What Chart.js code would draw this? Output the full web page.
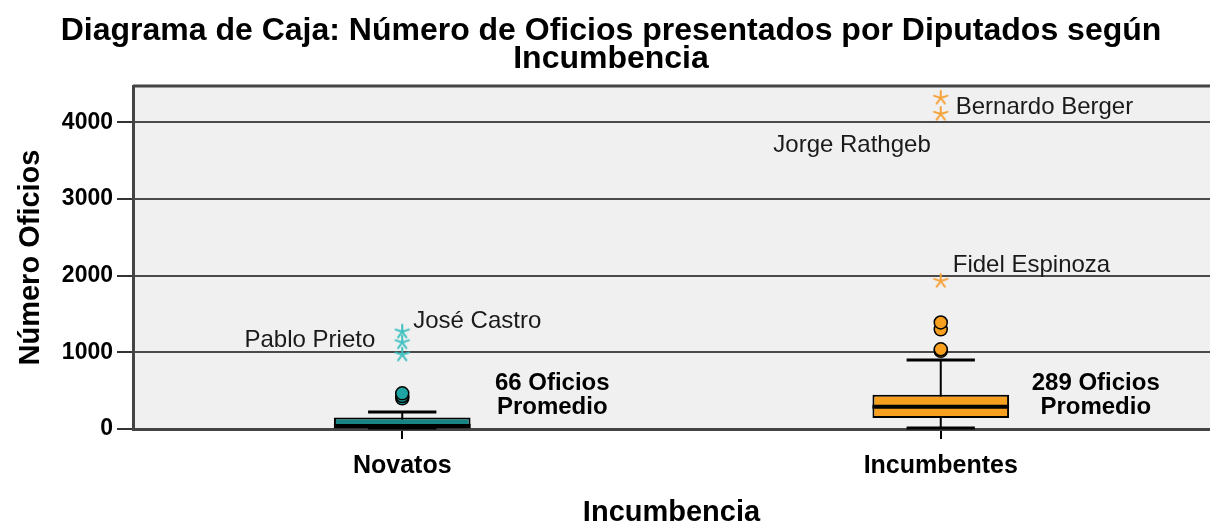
<!DOCTYPE html>
<html>
<head>
<meta charset="utf-8">
<script src="https://cdn.jsdelivr.net/npm/chart.js@4.4.1/dist/chart.umd.min.js"></script>
<style>
  html, body { margin: 0; padding: 0; background: #fff; }
</style>
</head>
<body>
<canvas id="chart" width="1210" height="527"></canvas>
<script>
// box plot data
const categories = ['Novatos', 'Incumbentes'];
const whiskerLow = [0, 0];
const boxQ1 = [8, 144];
const boxMedian = [40, 289];
const boxQ3 = [150, 446];
const whiskerHigh = [210, 892];
const means = [66, 289];

const novOutliers = [400, 430, 465];
const incOutliers = [1020, 1040, 1300, 1390];
const novExtremes = [970, 1130, 1270];
const incExtremes = [1930, 4110, 4320];
const novExtremeNames = ['', 'Pablo Prieto', 'José Castro'];
const incExtremeNames = ['Fidel Espinoza', 'Jorge Rathgeb', 'Bernardo Berger'];

const yTicks = [0, 1000, 2000, 3000, 4000];

// styles
const FONT = '"Liberation Sans", Arial, sans-serif';
const boxColors = ['#178584', '#f7a01f'];
const circleColors = ['#1ea4a2', '#f7a01f'];
const starColors = ['#3dc0bf', '#f6a23a'];
// label offsets (px) from the point each name belongs to
const novLabelPos = [null, {dx: -27, dy: -2, align: 'right'}, {dx: 11, dy: -10, align: 'left'}];
const incLabelPos = [{dx: 12, dy: -16, align: 'left'}, {dx: -10, dy: 31, align: 'right'}, {dx: 15, dy: 9, align: 'left'}];
const meanLabelDx = [150, 155];

function makeStar(color) {
  const c = document.createElement('canvas');
  c.width = 18; c.height = 18;
  const g = c.getContext('2d');
  g.strokeStyle = color;
  g.lineWidth = 2;
  g.lineCap = 'round';
  g.translate(9, 9);
  for (let i = 0; i < 5; i++) {
    const a = -Math.PI / 2 + i * 2 * Math.PI / 5;
    g.beginPath();
    g.moveTo(0, 0);
    g.lineTo(Math.cos(a) * 7, Math.sin(a) * 7);
    g.stroke();
  }
  return c;
}

function pts(cat, values) {
  return values.map(v => ({x: cat, y: v}));
}

const boxParts = {
  id: 'boxParts',
  beforeDraw(chart) {
    const {ctx, chartArea: a} = chart;
    ctx.save();
    ctx.fillStyle = '#f0f0f0';
    ctx.fillRect(a.left, a.top, a.right - a.left, a.bottom - a.top);
    ctx.restore();
  },
  beforeDatasetsDraw(chart) {
    const {ctx, scales: {x, y}} = chart;
    const bars = chart.getDatasetMeta(0).data;
    ctx.save();
    ctx.strokeStyle = '#000';
    ctx.lineWidth = 2;
    categories.forEach((c, i) => {
      const cx = x.getPixelForValue(i);
      const half = bars[i].width / 4;
      ctx.beginPath();
      ctx.moveTo(cx, y.getPixelForValue(whiskerLow[i]));
      ctx.lineTo(cx, y.getPixelForValue(whiskerHigh[i]));
      ctx.stroke();
      [whiskerLow[i], whiskerHigh[i]].forEach(v => {
        const py = Math.round(y.getPixelForValue(v)) - 1;
        ctx.lineWidth = 3;
        ctx.beginPath();
        ctx.moveTo(cx - half, py);
        ctx.lineTo(cx + half, py);
        ctx.stroke();
        ctx.lineWidth = 2;
      });
    });
    ctx.restore();
  },
  afterDatasetDraw(chart, args) {
    if (args.index !== 0) return;
    const {ctx, scales: {x, y}} = chart;
    const bars = chart.getDatasetMeta(0).data;
    ctx.save();
    ctx.strokeStyle = '#000';
    ctx.lineWidth = 4;
    categories.forEach((c, i) => {
      const cx = x.getPixelForValue(i);
      const half = bars[i].width / 2;
      const py = y.getPixelForValue(boxMedian[i]);
      ctx.beginPath();
      ctx.moveTo(cx - half, py);
      ctx.lineTo(cx + half, py);
      ctx.stroke();
    });
    ctx.restore();
  },
  afterDatasetsDraw(chart) {
    const {ctx, chartArea: a, scales: {x, y}} = chart;
    ctx.save();
    // top frame line
    ctx.strokeStyle = '#444';
    ctx.lineWidth = 3;
    ctx.beginPath();
    ctx.moveTo(a.left, a.top);
    ctx.lineTo(a.right, a.top);
    ctx.stroke();

    // names of the extreme cases
    ctx.fillStyle = '#1a1a1a';
    ctx.font = '24px ' + FONT;
    ctx.textBaseline = 'middle';
    const drawNames = (i, values, names, pos) => {
      values.forEach((v, k) => {
        if (!names[k]) return;
        ctx.textAlign = pos[k].align;
        ctx.fillText(names[k], x.getPixelForValue(i) + pos[k].dx, y.getPixelForValue(v) + pos[k].dy);
      });
    };
    drawNames(0, novExtremes, novExtremeNames, novLabelPos);
    drawNames(1, incExtremes, incExtremeNames, incLabelPos);

    // mean annotations
    ctx.fillStyle = '#000';
    ctx.font = 'bold 24px ' + FONT;
    ctx.textAlign = 'center';
    means.forEach((m, i) => {
      const cx = x.getPixelForValue(i) + meanLabelDx[i];
      const y0 = y.getPixelForValue(0);
      ctx.fillText(m + ' Oficios', cx, y0 - 46);
      ctx.fillText('Promedio', cx, y0 - 22);
    });
    ctx.restore();
  }
};

const chart = new Chart(document.getElementById('chart'), {
  type: 'bar',
  data: {
    labels: categories,
    datasets: [
      {
        label: 'Caja',
        data: categories.map((c, i) => [boxQ1[i], boxQ3[i]]),
        backgroundColor: boxColors,
        borderColor: '#000',
        borderWidth: 2,
        borderSkipped: false,
        barPercentage: 0.2537,
        categoryPercentage: 1,
        order: 3
      },
      {
        type: 'line', label: 'Atípicos Novatos', data: pts(categories[0], novOutliers),
        showLine: false, pointStyle: 'circle', pointRadius: 6.5,
        pointBackgroundColor: circleColors[0], pointBorderColor: '#000', pointBorderWidth: 1.5, order: 1
      },
      {
        type: 'line', label: 'Atípicos Incumbentes', data: pts(categories[1], incOutliers),
        showLine: false, pointStyle: 'circle', pointRadius: 6.5,
        pointBackgroundColor: circleColors[1], pointBorderColor: '#000', pointBorderWidth: 1.5, order: 1
      },
      {
        type: 'line', label: 'Extremos Novatos', data: pts(categories[0], novExtremes),
        showLine: false, pointStyle: makeStar(starColors[0]), order: 0
      },
      {
        type: 'line', label: 'Extremos Incumbentes', data: pts(categories[1], incExtremes),
        showLine: false, pointStyle: makeStar(starColors[1]), order: 0
      }
    ]
  },
  options: {
    responsive: false,
    animation: false,
    devicePixelRatio: 1,
    // plot area runs slightly past the right edge, as in the original
    layout: {autoPadding: false, padding: {left: 7, right: -5, top: 0, bottom: 0}},
    plugins: {
      legend: {display: false},
      tooltip: {enabled: false},
      title: {
        display: true,
        text: ['Diagrama de Caja: Número de Oficios presentados por Diputados según', 'Incumbencia'],
        color: '#000',
        font: {family: FONT, size: 32, weight: 'bold', lineHeight: 28 / 32},
        padding: {top: 17, bottom: 13}
      }
    },
    scales: {
      x: {
        afterFit(scale) {
          scale.height = 98;
          scale.paddingLeft = 0;
          scale.paddingRight = -5;
        },
        grid: {display: true, drawOnChartArea: false, offset: false, tickLength: 10, color: '#000', lineWidth: 2},
        border: {display: true, color: '#444', width: 3},
        ticks: {color: '#000', padding: 12, font: {family: FONT, size: 25, weight: 'bold'}},
        title: {
          display: true, text: 'Incumbencia', color: '#000',
          font: {family: FONT, size: 29, weight: 'bold', lineHeight: 1},
          padding: {top: 0, bottom: 0}
        }
      },
      y: {
        min: 0,
        max: 4475,
        afterFit(scale) {
          scale.width = 126;
          scale.paddingLeft = 0;
          scale.paddingRight = -5;
        },
        afterBuildTicks(scale) { scale.ticks = yTicks.map(v => ({value: v})); },
        grid: {color: '#4a4a4a', lineWidth: 2, tickLength: 16, tickColor: '#333'},
        border: {display: true, color: '#444', width: 3},
        ticks: {
          color: '#000', padding: 4, font: {family: FONT, size: 23, weight: 'bold'},
          callback: v => String(v)
        },
        title: {
          display: true, text: 'Número Oficios', color: '#000',
          font: {family: FONT, size: 29, weight: 'bold', lineHeight: 1},
          padding: {top: 9, bottom: 0}
        }
      }
    }
  },
  plugins: [boxParts]
});
</script>
</body>
</html>
